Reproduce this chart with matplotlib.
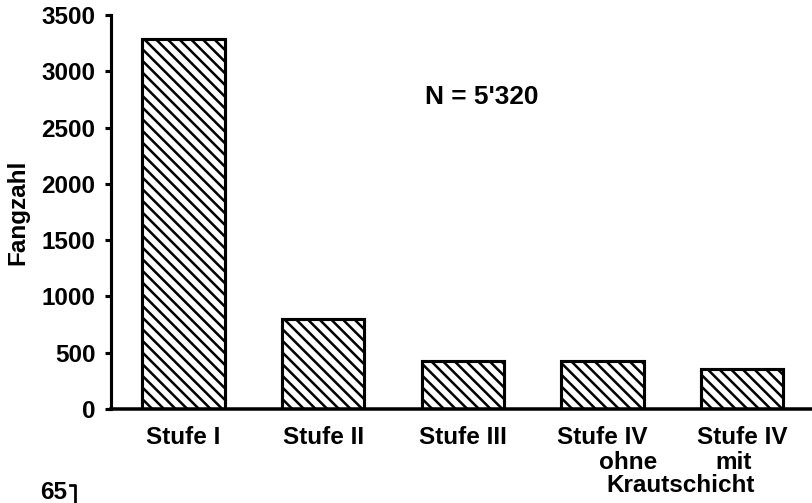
import matplotlib.pyplot as plt
from matplotlib.lines import Line2D

# Fangzahlen pro Vegetationsstufe
stufen = ["Stufe I", "Stufe II", "Stufe III", "Stufe IV", "Stufe IV"]
fangzahl = [3290, 800, 430, 425, 355]
y_ticks = [0, 500, 1000, 1500, 2000, 2500, 3000, 3500]

plt.rcParams['font.family'] = ['Liberation Sans', 'DejaVu Sans']
plt.rcParams['font.weight'] = 'bold'
plt.rcParams['hatch.linewidth'] = 1.3

fs = 12.5

fig = plt.figure(figsize=(812 / 140, 503 / 140), dpi=140)
ax = fig.add_axes([0.1367, 0.187, 0.8633, 0.783])

x = list(range(len(stufen)))
ax.bar(x, fangzahl, width=0.59, facecolor='white', edgecolor='black',
       linewidth=1.6, hatch='\\\\\\\\', zorder=2)

ax.set_xlim(-0.52, 4.5)
ax.set_ylim(0, 3500)
ax.set_yticks(y_ticks)
ax.set_yticklabels([str(v) for v in y_ticks], fontsize=fs, fontweight='bold')
ax.set_xticks(x)
ax.set_xticklabels(stufen, fontsize=fs, fontweight='bold')

ax.tick_params(axis='y', direction='out', length=3, width=1.6, pad=5)
ax.tick_params(axis='x', length=0, pad=9)

for side in ['top', 'right']:
    ax.spines[side].set_visible(False)
ax.spines['left'].set_linewidth(1.6)
ax.spines['bottom'].set_linewidth(1.8)

ax.set_ylabel("Fangzahl", fontsize=fs, fontweight='bold')
ax.yaxis.set_label_coords(-0.116, 0.5)

# Zusatzzeilen unter den beiden Stufe-IV-Balken
ax.text(3.18, -0.135, "ohne", transform=ax.get_xaxis_transform(),
        ha='center', va='center', fontsize=fs, fontweight='bold')
ax.text(3.94, -0.135, "mit", transform=ax.get_xaxis_transform(),
        ha='center', va='center', fontsize=fs, fontweight='bold')
ax.text(3.56, -0.195, "Krautschicht", transform=ax.get_xaxis_transform(),
        ha='center', va='center', fontsize=fs, fontweight='bold')

ax.text(1.73, 2771, "N = 5'320", ha='left', va='center',
        fontsize=13.5, fontweight='bold')

# Anfang der nächsten Abbildung am unteren Rand
fig.text(0.049, 0.02, "65", ha='left', va='center', fontsize=fs, fontweight='bold')
fig.add_artist(Line2D([0.086, 0.092, 0.092], [0.036, 0.036, 0.0],
                      transform=fig.transFigure, color='black', linewidth=1.4))

fig.savefig("out.png", dpi=140)
